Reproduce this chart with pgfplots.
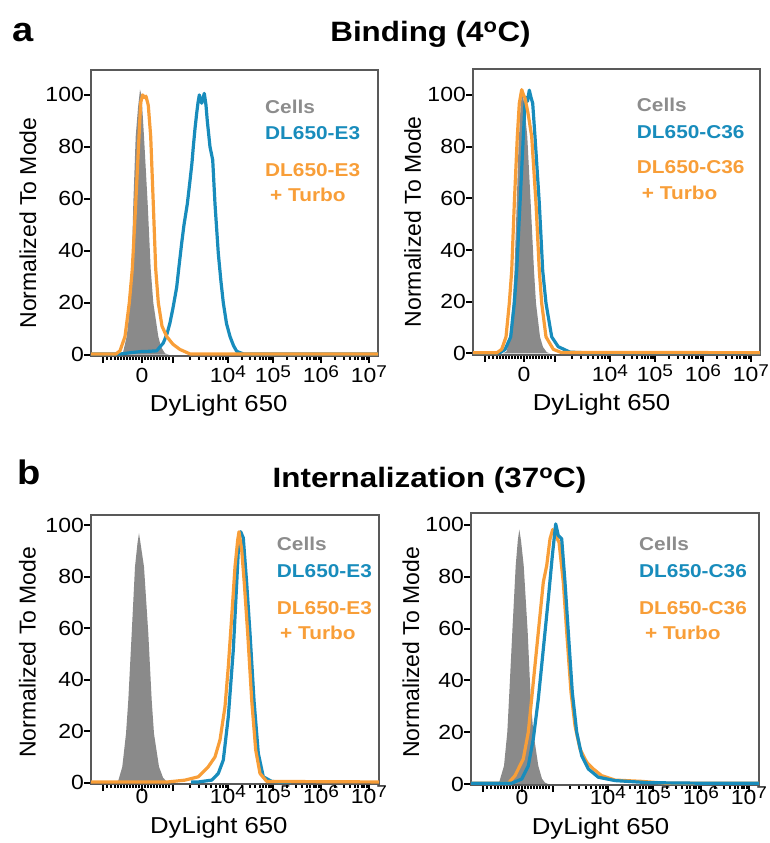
\documentclass[border=0pt]{standalone}
\usepackage{pgfplots}
\pgfplotsset{compat=1.18}
\usepackage{fontspec}
\setmainfont{Liberation Sans}[FakeStretch=1.12]
\newfontfamily\ylabfont{Liberation Sans}
\newcommand\sups[1]{\raisebox{5.5pt}{\fontsize{17}{17}\selectfont #1}}
\definecolor{cblue}{RGB}{24,140,188}
\definecolor{corange}{RGB}{248,158,56}
\definecolor{cgray}{RGB}{138,138,138}
\definecolor{lgray}{RGB}{140,140,140}
\pgfplotsset{
  hist/.style={
    scale only axis, anchor=south west, xmin=0, ymin=-0.5,
    axis line style={draw=black!65, line width=1.3pt},
    tick align=outside, xtick pos=bottom, ytick pos=left,
    ytick={0,20,40,60,80,100},
    xtick={12,51,82,137,182,230,278},
    xticklabels={,0,,10\sups{4},10\sups{5},10\sups{6},10\sups{7}},
    minor xtick={16,20,24,27,30,33,36,39,42,45,48,54,57,60,63,66,69,72,75,78,
      98.6,108.2,115.1,120.4,124.8,128.5,131.7,134.5,
      150.5,158.5,164.1,168.5,172,175,177.6,179.9,
      196.4,204.9,210.9,215.6,219.4,222.6,225.3,227.8,
      244.4,252.9,258.9,263.6,267.4,270.6,273.3,275.8},
    major tick length=7pt, minor tick length=4pt,
    tick style={black, line width=2pt},
    ticklabel style={font=\fontsize{20.5}{20.5}\selectfont},
    /pgf/number format/assume math mode=true,
    yticklabel style={inner sep=0pt, anchor=east},
    xticklabel style={inner sep=0pt, anchor=base},
    xlabel={DyLight 650}, ylabel={Normalized To Mode},
    xlabel style={font=\fontsize{23}{23}\selectfont, anchor=base, inner sep=0pt},
    ylabel style={font=\ylabfont\fontsize{23}{23}\selectfont, anchor=center, inner sep=0pt},
  },
  bl/.style={draw=cblue, line width=3.2pt, line join=round},
  ol/.style={draw=corange, line width=3.2pt, line join=round},
  gf/.style={fill=cgray, draw=none},
}
\begin{document}
\begin{tikzpicture}[x=1pt,y=1pt]
% ---------- A1 ----------
\begin{axis}[hist, at={(91pt,487pt)}, width=287pt, height=286pt, xmax=287, ymax=109.6,
  xticklabel style={yshift=-20pt},
  xlabel style={at={(axis description cs:0.445,0)}, yshift=-56pt},
  ylabel style={at={(axis description cs:-0.2195,0.465)}}]
\addplot[gf] coordinates {(28,0) (32,0.8) (35.7,7) (38,15) (40.7,33) (42.3,58) (44.7,84) (47,95) (49,102) (50.5,100) (53,84) (56.7,58) (59.7,33) (62.3,20) (67.3,7) (70,3) (74,0.5) (78,0)} \closedcycle;
\addplot[bl] coordinates {(0,0.3) (30,0.3) (40,0.8) (50,1.2) (58,1.3) (65.7,1.5) (69,3) (72.3,4.5) (76,8) (79,12.3) (82,18) (85.7,26) (88,34) (90.7,43) (93,50) (96.3,58) (99,67) (101,74) (102.3,80) (104,87) (105.7,93) (107,97) (108.3,100) (110.7,96.8) (113.3,100.6) (115,96) (116.3,90) (119,80) (121.7,75) (124,58) (127.3,39) (130,28) (132.3,20) (135.5,12) (139,7) (142.5,3.5) (145.7,1.3) (152.3,0.3) (287,0.3)};
\addplot[ol] coordinates {(0,0.3) (25,0.3) (29,1.5) (34,7) (38.3,20) (41.3,33) (44.7,58) (48,84) (49.7,97) (51.7,100) (53.5,99) (55,99.5) (57.3,96) (59.7,84) (62.3,58) (64.7,33) (67.3,20) (71,11) (75.7,7) (82,4) (89,2) (99,0.3) (287,0.3)};
\end{axis}
% ---------- A2 ----------
\begin{axis}[hist, at={(473pt,488pt)}, width=287pt, height=286pt, xmax=287, ymin=-0.6, ymax=110,
  xticklabel style={yshift=-20pt},
  xlabel style={at={(axis description cs:0.448,0)}, yshift=-56pt},
  ylabel style={at={(axis description cs:-0.21,0.466)}}]
\addplot[gf] coordinates {(30,0) (33.7,0.8) (36.5,6.4) (39.7,19.4) (41.5,32) (43.7,58) (45.5,80) (47.5,95) (49.3,102) (51,97) (54.3,83.8) (57.7,58) (61,32) (63,19.4) (67,6.4) (70,2.5) (73.7,0.5) (77,0)} \closedcycle;
\addplot[bl] coordinates {(0,0.3) (27,0.3) (32,1.5) (37.7,6.4) (41.3,19.4) (43.7,32) (47,58) (50.3,83.8) (52,96.7) (53.5,99) (54.5,97.5) (56.3,101.8) (58,99) (59.7,96.7) (62,83.8) (66.3,58) (69.7,32) (73,19.4) (78.7,6.4) (85.3,2.6) (97,0.5) (110,0.3) (287,0.3)};
\addplot[ol] coordinates {(0,0.3) (24,0.3) (28.7,1.6) (33,6.4) (36.3,19.4) (38.7,32) (41.3,58) (44.3,83.8) (46.3,96.7) (48.7,102) (50.5,100) (52,98.8) (55,93) (58.7,83.8) (63,58) (66.3,32) (68.7,19.4) (73,6.4) (80.3,1.6) (88,0.4) (287,0.3)};
\end{axis}
% ---------- B1 ----------
\begin{axis}[hist, at={(91pt,59pt)}, width=288pt, height=269pt, xmax=288, ymax=103.9,
  xticklabel style={yshift=-12pt},
  xlabel style={at={(axis description cs:0.444,0)}, yshift=-49pt},
  ylabel style={at={(axis description cs:-0.221,0.49)}}]
\addplot[gf] coordinates {(24,0) (27.3,0.8) (31.3,6.2) (35,19) (37.3,32) (40.7,58) (44,83.8) (46.5,93) (48,96.8) (49.5,93) (53,83.8) (57.3,58) (60.7,32) (63,19) (68,6.2) (72,2) (75.7,0.4) (79,0)} \closedcycle;
\addplot[bl] coordinates {(100,0.3) (107.3,0.3) (120.7,1) (127.3,3.6) (132.3,8.8) (137.3,25.6) (142.3,51.5) (145.7,77.4) (148,95.5) (149.7,97.4) (152.3,95) (155.7,77.4) (159,58) (163,32) (167.3,11.4) (172.3,2.3) (180.7,0.5) (187.3,0.3) (200,0.3)};
\addplot[ol] coordinates {(0,0.3) (77,0.3) (94,1) (107.3,2.3) (117.3,6.2) (124,10) (129,16.6) (134,29.5) (137.3,45) (140.7,64.4) (144,83.8) (146.7,94.2) (148,97.4) (150.7,90.3) (153.3,77.4) (156.7,58) (160.7,32) (164.7,12.7) (169,3.6) (175.7,0.5) (288,0.3)};
\end{axis}
% ---------- B2 ----------
\begin{axis}[hist, at={(471pt,58pt)}, width=288pt, height=272pt, xmax=288, ymin=-0.4, ymax=104.6,
  xticklabel style={yshift=-12pt},
  xlabel style={at={(axis description cs:0.45,0)}, yshift=-49pt},
  ylabel style={at={(axis description cs:-0.209,0.487)}}]
\addplot[gf] coordinates {(25,0) (28.3,0.8) (33,7) (36.3,20) (38,32.8) (41.3,58.6) (44.7,84.3) (46.8,94) (48.3,98.2) (50,94) (52.7,84.3) (56.7,58.6) (59.7,32.8) (62.3,20) (67.3,7) (71,2) (74,0.5) (77,0)} \closedcycle;
\addplot[ol] coordinates {(0,0.3) (37.3,0.3) (44,3.2) (52.3,9.7) (57.3,20) (62.3,39.3) (67.3,58.6) (72.3,77.9) (75.7,84.3) (79,94.6) (81.7,98.2) (84.7,95.9) (88,93.3) (92.3,77.9) (95.7,58.6) (100,35.4) (104,22.5) (109,13.5) (115.7,8.4) (122.3,5.8) (130.7,3.2) (144,1.5) (170.7,1) (194,0.3) (288,0.3)};
\addplot[bl] coordinates {(0,0.3) (40.7,0.3) (50.7,1.9) (57.3,7) (62.3,17.4) (67.3,32.8) (72.3,52) (77.3,71.4) (81.3,88) (84.7,100.4) (87.3,95.9) (90.7,94.6) (94,77.9) (97.3,58.6) (101.3,35.4) (105.7,20) (110.7,10.9) (117.3,5.8) (127.3,2.6) (144,1.3) (177.3,0.5) (227.3,0.3) (288,0.3)};
\end{axis}
% ---------- titles ----------
\begin{scope}[every node/.style={inner sep=0pt}]
\node[anchor=base west, font=\bfseries\fontsize{34}{34}\selectfont] at (12,801.5) {a};
\node[anchor=base west, font=\bfseries\fontsize{34}{34}\selectfont] at (17,358) {b};
\node[anchor=base, font=\bfseries\fontsize{28}{28}\selectfont] at (430.5,801) {Binding (4\textsuperscript{o}C)};
\node[anchor=base, font=\bfseries\fontsize{28}{28}\selectfont] at (429.5,355) {Internalization (37\textsuperscript{o}C)};
% legends
\begin{scope}[every node/.append style={anchor=base west, font=\bfseries\fontsize{18.6}{19}\selectfont}]
\node[text=lgray] at (265,729.7) {Cells};
\node[text=cblue] at (265,703) {DL650-E3};
\node[text=corange] at (265,666.3) {DL650-E3};
\node[text=corange] at (270,641.3) {+ Turbo};
\node[text=lgray] at (636.7,731.3) {Cells};
\node[text=cblue] at (636.7,704.7) {DL650-C36};
\node[text=corange] at (636.7,669) {DL650-C36};
\node[text=corange] at (641.7,643) {+ Turbo};
\node[text=lgray] at (276.7,292.3) {Cells};
\node[text=cblue] at (276.7,265.3) {DL650-E3};
\node[text=corange] at (276.7,228) {DL650-E3};
\node[text=corange] at (280,203) {+ Turbo};
\node[text=lgray] at (639,292.3) {Cells};
\node[text=cblue] at (639,265.3) {DL650-C36};
\node[text=corange] at (639,228) {DL650-C36};
\node[text=corange] at (645,203) {+ Turbo};
\end{scope}
\end{scope}
\pgfresetboundingbox
\path (0,0) rectangle (769,843);
\end{tikzpicture}
\end{document}
